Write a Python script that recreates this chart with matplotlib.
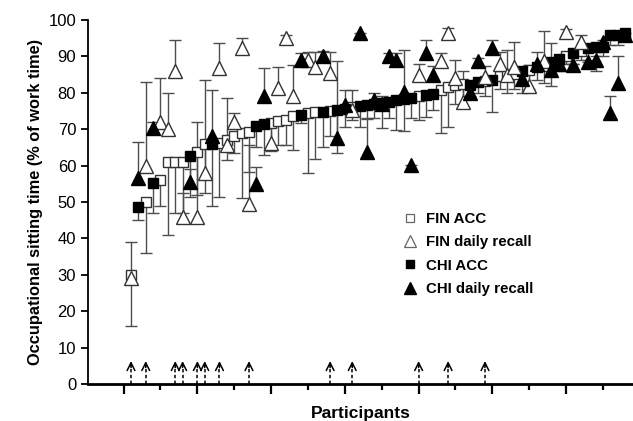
import matplotlib
matplotlib.use("Agg")
import matplotlib.pyplot as plt
import numpy as np
from matplotlib.lines import Line2D

plt.rcParams['font.family'] = ['Liberation Sans', 'DejaVu Sans']

# ---- data (participants sorted by ACC value) ----
group = ['F','C','F','C','F','F','F','F','C','F',
         'F','C','F','F','F','F','F','C','C','F',
         'F','F','F','C','F','F','C','F','C','C',
         'F','C','C','C','C','C','C','C','C','F',
         'C','C','F','F','F','F','C','C','F','C',
         'F','F','F','C','F','C','F','C','C','F',
         'C','F','C','C','C','C','C','C']
acc = [30, 48.5, 50, 55.2, 56, 61, 61, 61, 62.6, 63.8,
       66, 66, 66.3, 67, 68, 69, 69.3, 71, 71.3, 71.6,
       72.2, 72.5, 73.6, 74, 74.4, 74.6, 74.8, 75, 75.3, 75.5,
       76, 76.4, 76.6, 77, 77.3, 77.6, 78, 78.3, 78.6, 79.1,
       79.4, 79.8, 80.8, 81.7, 82.1, 82.3, 82.1, 83, 83.2, 83.5,
       84.5, 85, 85.3, 86, 86.3, 87.2, 87.5, 88.5, 89.4, 90,
       90.8, 91.5, 92.2, 92.5, 92.7, 95.9, 95.9, 96.3]
acc_low = [16, 45, 36, 47, 49, 41, 47, 47, 51.5, 52,
           52.5, 49, 51.5, 61.5, 63.5, 51, 58.3, 65, 63, 64,
           65.7, 65.7, 64.3, 71.7, 58, 61.7, 65.2, 68, 63.4, 70.7,
           72.5, 70.7, 73, 73, 70.3, 73, 69.8, 69.5, 73, 72.5,
           73.4, 75.3, 69, 70.7, 77, 76, 79, 80, 79, 74.8,
           81, 80, 81, 80, 81, 83.5, 82.6, 82, 86, 88,
           88, 89, 88.5, 86, 90, 93, 93, 95]
rec = [29, 56.6, 60, 70.2, 72, 70, 86, 46, 55.6, 46,
       58, 68, 86.7, 65.7, 72, 92.2, 49.5, 55, 79, 66.3,
       81.2, 95, 79, 89, 89, 87, 90, 85.5, 67.5, 76.6,
       75.3, 96.3, 63.8, 78, 77, 90, 89, 80.3, 60.2, 85,
       90.8, 85, 88.6, 96.3, 84, 77.5, 80, 88.6, 84.4, 92.2,
       88, 85, 87.2, 83.7, 82, 88, 88.6, 86.3, 88, 96.8,
       87.6, 94, 88.5, 89, 94, 74.4, 82.8, 96]
rec_high = [39, 66.6, 83, 72, 84, 80, 94.5, 52.5, 59, 72,
            83.5, 80.8, 93.6, 78.5, 74.5, 95, 65.7, 59.7, 86.7, 72.5,
            87.2, 96, 87.6, 91, 91.3, 91.3, 91.5, 91.3, 88.6, 80.8,
            80.8, 96.3, 72.7, 80, 79, 91, 91, 91.8, 60.2, 88,
            94.6, 87.5, 90.8, 97.7, 89, 86, 82, 89.5, 87.5, 94.5,
            91.3, 91.8, 94, 85, 87.6, 91.3, 97, 93.6, 88, 97.5,
            88, 95.9, 89, 90, 94.5, 79, 90.1, 96.5]
arrow_participants = [1, 3, 7, 8, 10, 11, 13, 17, 28, 31, 40, 44, 49]
y_ticks = [0, 10, 20, 30, 40, 50, 60, 70, 80, 90, 100]
legend_labels = ['FIN ACC', 'FIN daily recall', 'CHI ACC', 'CHI daily recall']

# ---- figure ----
W, H = 633, 421
fig = plt.figure(figsize=(W / 100, H / 100), dpi=100)
ax = fig.add_axes([88 / W, 37 / H, (W - 88) / W, (384 - 20) / H])

n = len(acc)
x = np.arange(1, n + 1)
acc = np.array(acc); acc_low = np.array(acc_low)
rec = np.array(rec); rec_high = np.array(rec_high)
isF = np.array([g == 'F' for g in group])

ebc = '#4d4d4d'
# ACC: lower bars, daily recall: upper bars
ax.vlines(x, acc_low, acc, color=ebc, lw=1.0, zorder=2)
ax.plot(x, acc_low, ls='none', marker='_', ms=8, mew=1.0, color=ebc, zorder=2)
ax.vlines(x, rec, rec_high, color=ebc, lw=1.0, zorder=2)
ax.plot(x, rec_high, ls='none', marker='_', ms=8, mew=1.0, color=ebc, zorder=2)

sq_ms, tr_ms = 7.5, 9.5
ax.plot(x[isF], acc[isF], ls='none', marker='s', ms=sq_ms, mfc='white', mec='#333333', mew=1.0,
        zorder=3, clip_on=False)
ax.plot(x[~isF], acc[~isF], ls='none', marker='s', ms=sq_ms, mfc='black', mec='black', mew=1.0,
        zorder=3, clip_on=False)
ax.plot(x[isF], rec[isF], ls='none', marker='^', ms=tr_ms, mfc='white', mec='#333333', mew=1.0,
        zorder=4, clip_on=False)
ax.plot(x[~isF], rec[~isF], ls='none', marker='^', ms=tr_ms, mfc='black', mec='black', mew=1.0,
        zorder=4, clip_on=False)

# dashed arrows
for p in arrow_participants:
    ax.plot([p, p], [0, 5.3], ls=(0, (2.2, 1.6)), color='black', lw=1.1, zorder=2)
    ax.annotate('', xy=(p, 6.3), xytext=(p, 4.5),
                arrowprops=dict(arrowstyle='->', lw=1.1, color='black', mutation_scale=14,
                                shrinkA=0, shrinkB=0))

ax.set_xlim(-4.83, 69.07)
ax.set_ylim(0, 100)
ax.set_yticks(y_ticks)
ax.set_yticklabels([str(v) for v in y_ticks], fontsize=12)
ax.set_xticks(np.arange(0, 70, 10))
ax.set_xticks(np.arange(5, 70, 10), minor=True)
ax.set_xticklabels([])
ax.tick_params(axis='x', which='major', direction='out', length=7, width=1.6)
ax.tick_params(axis='x', which='minor', direction='out', length=4, width=1.6)
ax.tick_params(axis='y', direction='out', length=5, width=1.3)
for s in ['top', 'right']:
    ax.spines[s].set_visible(False)
ax.spines['bottom'].set_linewidth(2.0)
ax.spines['left'].set_linewidth(1.3)

ax.set_ylabel('Occupational sitting time (% of work time)', fontsize=11.8, fontweight='bold', labelpad=4)
ax.set_xlabel('Participants', fontsize=12.5, fontweight='bold', labelpad=5)

# legend
handles = [
    Line2D([], [], ls='none', marker='s', ms=5.5, mfc='white', mec='#666666', mew=0.9),
    Line2D([], [], ls='none', marker='^', ms=8, mfc='white', mec='#666666', mew=0.9),
    Line2D([], [], ls='none', marker='s', ms=5.5, mfc='black', mec='black'),
    Line2D([], [], ls='none', marker='^', ms=8, mfc='black', mec='black'),
]
leg = fig.legend(handles, legend_labels, loc='upper left', bbox_to_anchor=(403 / W, 1 - 212 / H),
                 frameon=False, handlelength=1.0, handletextpad=0.55, labelspacing=0.62,
                 borderpad=0, borderaxespad=0, prop={'weight': 'bold', 'size': 10.8})

fig.savefig('out.png', dpi=100)
